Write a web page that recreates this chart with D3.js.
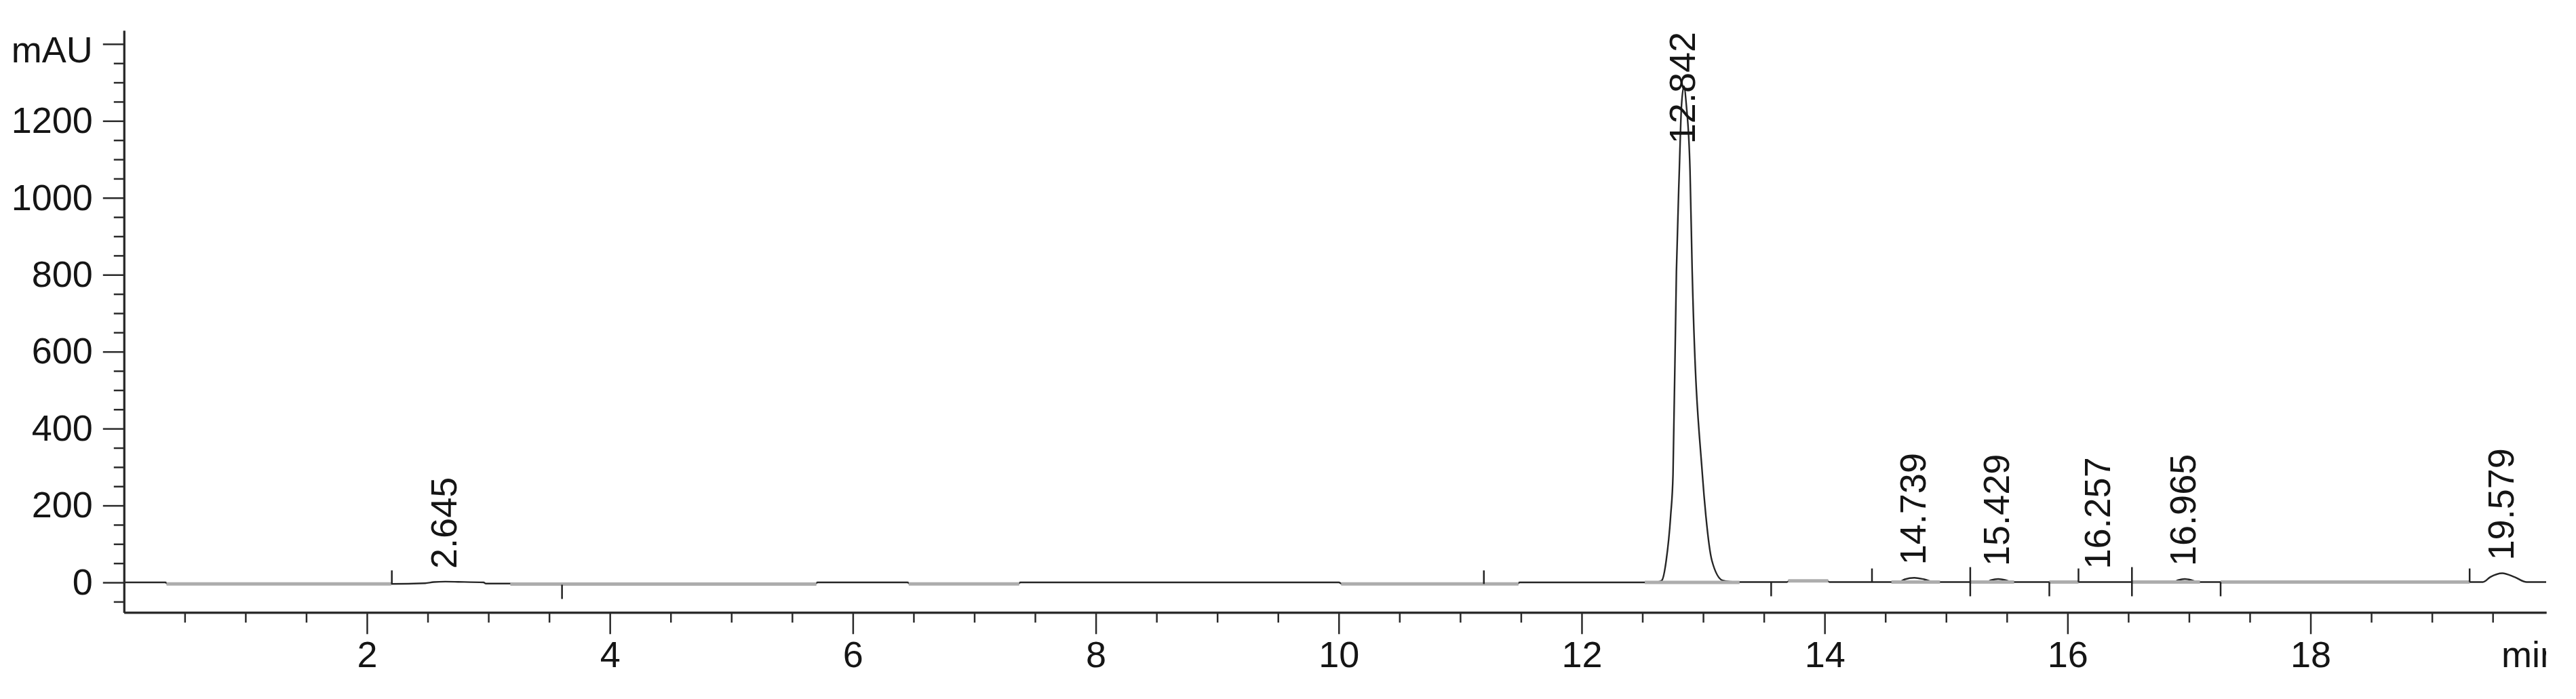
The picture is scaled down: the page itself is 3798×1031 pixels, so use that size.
<!DOCTYPE html>
<html>
<head>
    <meta charset="utf-8">
    <title>Chromatogram</title>
    <script src="https://d3js.org/d3.v7.min.js"></script>
    <style>
        body { margin: 0; background: #fff; }
        svg { display: block; }
        .axis text {
            font-family: "Liberation Sans", Arial, sans-serif;
            font-size: 54px;
            fill: #151515;
        }
        .axis path, .axis line { stroke: #2a2a2a; }
        .peak-label {
            font-family: "Liberation Sans", Arial, sans-serif;
            font-size: 54px;
            fill: #151515;
        }
    </style>
</head>
<body>
<div id="chart"></div>
<script>
    // signal trace (min, mAU)
    const signalTime = [0, 0.34, 0.36, 2.2, 2.48, 2.55, 2.645, 2.75, 2.96, 2.98, 3.18, 3.44, 3.46, 5.22, 5.24,
        5.69, 5.71, 6.45, 6.47, 7.36, 7.38, 10.0, 10.03, 11.47, 11.49, 12.52, 12.62, 12.659, 12.696, 12.733,
        12.752, 12.780, 12.804, 12.822, 12.842, 12.862, 12.892, 12.910, 12.994, 13.022, 13.072, 13.161, 13.22,
        13.30, 13.69, 13.71, 14.02, 14.04, 14.61, 14.66, 14.739, 14.82, 14.91, 15.33, 15.37, 15.429, 15.49,
        15.54, 16.87, 16.91, 16.965, 17.02, 17.07, 19.42, 19.48, 19.579, 19.68, 19.78, 19.94];
    const signalMAU = [0, 0, -4, -4, -2, 1, 2, 1.5, 0, -3, -3, -4, -6, -6, -4,
        -4, 0, 0, -4, -4, 0, 0, -4, -4, 0, 0, 1, 5, 57, 175,
        280, 808, 1072, 1240, 1290, 1240, 1072, 808, 280, 175, 57, 5, 2,
        1, 1, 4, 4, 1, 1, 8, 12, 8, 1, 1, 6, 9, 6,
        1, 1, 6, 9, 6, 1, 1, 14, 24, 14, 1, 1];

    // light grey baseline stretches
    const baseStart = [0.35, 3.18, 6.46, 10.02, 12.52, 13.70, 14.55, 15.20, 15.85, 16.53, 17.26];
    const baseEnd = [2.20, 5.70, 7.37, 11.48, 13.30, 14.03, 14.95, 15.56, 16.09, 17.09, 19.31];
    const baseLevel = [-4, -4.5, -4, -4, 0, 4, 1, 1, 1, 1, 1];

    // integration event marks
    const markTime = [2.205, 3.606, 11.195, 13.56, 14.39, 15.199, 15.85, 16.09, 16.53, 17.26, 19.31];
    const markKind = ["up", "down", "up", "down", "up", "both", "down", "up", "both", "down", "up"];

    // labelled peaks
    const peakRT = [2.645, 12.842, 14.739, 15.429, 16.257, 16.965, 19.579];

    const xMajor = [2, 4, 6, 8, 10, 12, 14, 16, 18];
    const yMajor = [0, 200, 400, 600, 800, 1000, 1200, 1400];

    const W = 3798, H = 1031;
    const x = d3.scaleLinear().domain([0, 19.94]).range([182.8, 3754]);
    const y = d3.scaleLinear().domain([-78, 1435]).range([903.3, 45]);

    const svg = d3.select("#chart").append("svg")
        .attr("width", W).attr("height", H);

    svg.append("rect").attr("width", W).attr("height", H).attr("fill", "#fff");

    svg.append("clipPath").attr("id", "plot-clip")
        .append("rect")
        .attr("x", x.range()[0]).attr("y", 0)
        .attr("width", x.range()[1] - x.range()[0]).attr("height", H);

    const data = signalTime.map((t, i) => ({t: t, v: signalMAU[i]}));
    const bis = d3.bisector(d => d.t).left;
    function signalAt(t) {
        const i = Math.max(1, Math.min(data.length - 1, bis(data, t)));
        const a = data[i - 1], b = data[i];
        return a.v + (b.v - a.v) * (t - a.t) / (b.t - a.t);
    }

    const plot = svg.append("g").attr("clip-path", "url(#plot-clip)");

    // signal
    plot.append("path")
        .datum(data)
        .attr("fill", "none")
        .attr("stroke", "#262626")
        .attr("stroke-width", 2.4)
        .attr("stroke-linejoin", "round")
        .attr("d", d3.line().x(d => x(d.t)).y(d => y(d.v)).curve(d3.curveMonotoneX));

    // baselines
    plot.selectAll(".base")
        .data(baseStart.map((s, i) => ({s: s, e: baseEnd[i], v: baseLevel[i]})))
        .enter().append("line")
        .attr("class", "base")
        .attr("x1", d => x(d.s)).attr("x2", d => x(d.e))
        .attr("y1", d => y(d.v)).attr("y2", d => y(d.v))
        .attr("stroke", "#adadad")
        .attr("stroke-width", 5);

    // event marks
    plot.selectAll(".mark")
        .data(markTime.map((t, i) => ({t: t, k: markKind[i]})))
        .enter().append("line")
        .attr("class", "mark")
        .attr("x1", d => x(d.t)).attr("x2", d => x(d.t))
        .attr("y1", d => y(signalAt(d.t)) + (d.k === "up" ? 0 : 21))
        .attr("y2", d => y(signalAt(d.t)) - (d.k === "down" ? 0 : (d.k === "both" ? 22 : 20)))
        .attr("stroke", "#222")
        .attr("stroke-width", 2.5);

    // axes
    const yAxisG = svg.append("g").attr("class", "axis")
        .attr("transform", `translate(${x.range()[0]},0)`);
    yAxisG.call(d3.axisLeft(y)
        .tickValues(d3.range(-50, 1401, 50).filter(v => v % 200 !== 0))
        .tickSize(15).tickSizeOuter(0).tickFormat(""));
    yAxisG.append("g").call(d3.axisLeft(y)
        .tickValues(yMajor).tickSize(31).tickPadding(15).tickSizeOuter(0)
        .tickFormat(d => d === 1400 ? "mAU" : d));
    yAxisG.selectAll("g.tick text").filter(d => d === 1400).attr("dy", "0.5em");

    const xAxisG = svg.append("g").attr("class", "axis")
        .attr("transform", `translate(0,${y.range()[0]})`);
    xAxisG.call(d3.axisBottom(x)
        .tickValues(d3.range(0.5, 19.94, 0.5).filter(v => v % 2 !== 0))
        .tickSize(15).tickSizeOuter(0).tickFormat(""));
    xAxisG.append("g").call(d3.axisBottom(x)
        .tickValues(xMajor).tickSize(32).tickPadding(10).tickSizeOuter(0));

    svg.selectAll(".axis path.domain").attr("stroke-width", 3).attr("stroke", "#2a2a2a");
    svg.selectAll(".axis .tick line").attr("stroke-width", 2.5);

    // axis unit, clipped at the plot edge
    svg.append("text").attr("class", "peak-label")
        .attr("clip-path", "url(#plot-clip)")
        .attr("x", 3688).attr("y", 984)
        .text("min");

    // peak labels
    const fmt = d3.format(".3f");
    const labels = svg.selectAll(".peak-label-rt")
        .data(peakRT)
        .enter().append("text")
        .attr("class", "peak-label")
        .attr("dy", "0.3em")
        .text(d => fmt(d));
    labels.attr("transform", function(d) {
        const len = this.getComputedTextLength();
        const bottom = Math.max(y(signalAt(d)) - 19, 47 + len);
        return `translate(${x(d)},${bottom}) rotate(-90)`;
    });
</script>
</body>
</html>
